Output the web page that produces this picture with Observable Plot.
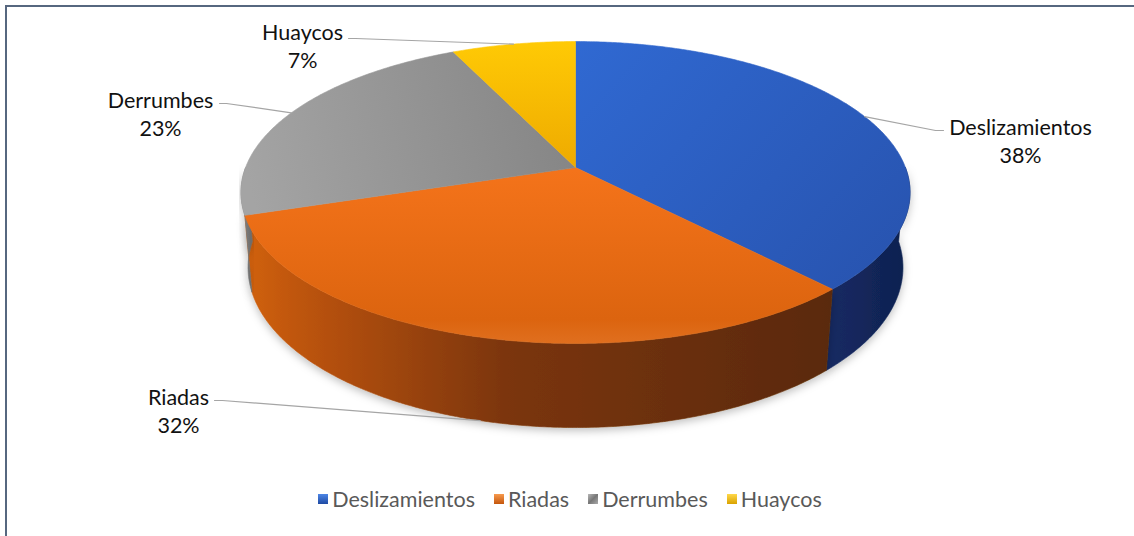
<!DOCTYPE html>
<html>
<head>
<meta charset="utf-8">
<script src="https://cdn.jsdelivr.net/npm/d3@7"></script>
<script src="https://cdn.jsdelivr.net/npm/@observablehq/plot@0.6"></script>
<style>
  html, body { margin: 0; padding: 0; background: #ffffff; }
  body { width: 1134px; height: 536px; overflow: hidden; position: relative; font-family: Lato, "Open Sans", sans-serif; }
  #frame { position: absolute; left: 5px; top: 5px; width: 1140px; height: 540px; border-top: 2px solid #56677f; border-left: 2px solid #56677f; }
  #chart { position: absolute; left: 0; top: 0; }
  #legend { position: absolute; left: 6px; width: 1128px; top: 486px; display: flex; justify-content: center; gap: 19px; font-size: 21.5px; line-height: 26px; color: #595959; }
  .item { display: flex; align-items: center; }
  .sw { width: 10px; height: 10px; margin-right: 4px; box-sizing: border-box; }
</style>
</head>
<body>
<div id="frame"></div>
<div id="chart"></div>
<div id="legend"></div>
<script>
// ---------------- data ----------------
const categories = ["Deslizamientos", "Riadas", "Derrumbes", "Huaycos"];
const values = [38, 32, 23, 7];
const percentLabels = ["38%", "32%", "23%", "7%"];

// ---------------- styles ----------------
const topBase = ["#2d62c6", "#ea6b14", "#929292", "#f8bd00"];
const sideBase = ["#13265a", "#8a3c0a", "#747474", "#c99400"];
const topGrad = ["gTopBlue", "gTopOrange", "gTopGray", "gTopYellow"];
const sideGrad = ["gSideBlue", "gSideOrange", "gSideGray", null];
const swatchCss = [
  "linear-gradient(#4d86e6,#1f4aa3)",
  "linear-gradient(#f79a4e,#c4560c)",
  "linear-gradient(135deg,#b8b8b8,#777 50%,#aaa)",
  "linear-gradient(#ffd84a,#d9a200)"
];

// ---------------- 3D view (perspective) ----------------
const W = 1134, H = 480;
const view = { cx: 575, cy: 167, k: 1785, D: 5.41, s: 0.445, c: 0.8955, h: 0.256 };
function proj(theta, Y) {
  const X = Math.sin(theta), Z = Math.cos(theta);
  const v = Y * view.c + Z * view.s;
  const w = view.D + Z * view.c - Y * view.s;
  return [view.cx + view.k * X / w, view.cy - view.k * v / w];
}
const centerPt = [view.cx, view.cy];

const arcs = d3.pie().sort(null).value(d => d)(values);
function sample(a0, a1) {
  const n = Math.max(2, Math.ceil((a1 - a0) / (Math.PI / 360)));
  return d3.range(n + 1).map(i => a0 + (a1 - a0) * i / n);
}

const topPolys = arcs.map((a) => {
  const pts = [centerPt, ...sample(a.startAngle, a.endAngle).map(t => proj(t, 0)), centerPt];
  return pts.map(([x, y]) => ({ x, y }));
});

const sidePolys = arcs.map((a) => {
  const lo = Math.max(a.startAngle, Math.PI / 2), hi = Math.min(a.endAngle, 3 * Math.PI / 2);
  if (hi <= lo) return null;
  const ts = sample(lo, hi);
  const pts = [...ts.map(t => proj(t, 0)), ...ts.slice().reverse().map(t => proj(t, -view.h))];
  pts.push(pts[0]);
  return pts.map(([x, y]) => ({ x, y }));
});

// label leaders: anchor on the slice (mid-angle), then kink and end near the label
const mid = arcs.map(a => (a.startAngle + a.endAngle) / 2);
const anchors = mid.map(t => Math.cos(t) < -0.5 ? proj(t, -view.h) : proj(t, 0));
const labelLayout = [
  { kink: [935, 130], end: [943, 130], tx: 1020, ty: 130 },
  { kink: [222, 400], end: [214, 400], tx: 178, ty: 400 },
  { kink: [226, 103], end: [219, 103], tx: 160, ty: 103 },
  { kink: [355, 38], end: [348, 38], tx: 302, ty: 35 }
];
const leaders = anchors.map((p, i) => [p, labelLayout[i].kink, labelLayout[i].end].map(([x, y]) => ({ x, y })));
const labelRows = categories.map((name, i) => ({
  x: labelLayout[i].tx, y: labelLayout[i].ty - 15.3, text: name + "\n" + percentLabels[i]
}));

const marks = [];
const markRoles = [];
sidePolys.forEach((poly, i) => {
  if (!poly) return;
  marks.push(Plot.line(poly, { x: "x", y: "y", fill: sideBase[i], stroke: sideBase[i], strokeWidth: 0.6 }));
  markRoles.push({ kind: "side", i });
});
topPolys.forEach((poly, i) => {
  marks.push(Plot.line(poly, { x: "x", y: "y", fill: topBase[i], stroke: topBase[i], strokeWidth: 0.6 }));
  markRoles.push({ kind: "top", i });
});
leaders.forEach(l => marks.push(Plot.line(l, { x: "x", y: "y", stroke: "#a5a5a5", strokeWidth: 1.2 })));
marks.push(Plot.text(labelRows, {
  x: "x", y: "y", text: "text", textAnchor: "middle", lineAnchor: "top", lineHeight: 1.3,
  fontSize: 21.5, fill: "#111111"
}));

const svg = Plot.plot({
  width: W, height: H, margin: 0,
  x: { type: "linear", domain: [0, W], range: [0, W], axis: null },
  y: { type: "linear", domain: [0, H], range: [0, H], axis: null },
  style: { fontFamily: "Lato, 'Open Sans', sans-serif", background: "transparent" },
  marks
});

const root = d3.select(svg);
const defs = root.insert("defs", ":first-child");
function lin(id, x1, y1, x2, y2, stops) {
  const g = defs.append("linearGradient").attr("id", id).attr("gradientUnits", "userSpaceOnUse")
    .attr("x1", x1).attr("y1", y1).attr("x2", x2).attr("y2", y2);
  stops.forEach(([o, c]) => g.append("stop").attr("offset", o).attr("stop-color", c));
}
lin("gTopBlue", 575, 40, 860, 300, [[0, "#3069d2"], [1, "#2854b0"]]);
lin("gTopOrange", 575, 170, 575, 345, [[0, "#f4731a"], [0.85, "#dc640f"], [1, "#e07020"]]);
lin("gTopGray", 250, 190, 575, 120, [[0, "#a4a4a4"], [1, "#858585"]]);
lin("gTopYellow", 575, 40, 575, 167, [[0, "#ffca05"], [1, "#eeaa00"]]);
lin("gSideOrange", 242, 0, 830, 0, [[0, "#d2620f"], [0.12, "#b9520c"], [0.45, "#7b3508"], [1, "#5a2907"]]);
lin("gSideBlue", 830, 0, 908, 0, [[0, "#152a63"], [1, "#0f214f"]]);
lin("gSideGray", 240, 0, 250, 0, [[0, "#8a8a8a"], [1, "#6e6e6e"]]);
const f = defs.append("filter").attr("id", "shadow").attr("x", "-10%").attr("y", "-10%").attr("width", "120%").attr("height", "130%");
f.append("feDropShadow").attr("dx", 0).attr("dy", 3).attr("stdDeviation", 4).attr("flood-color", "#000").attr("flood-opacity", 0.25);

const lineGroups = root.selectAll('g[aria-label="line"]').nodes();
markRoles.forEach((role, k) => {
  const g = d3.select(lineGroups[k]);
  if (role.kind === "side") {
    g.attr("filter", "url(#shadow)");
    const id = sideGrad[role.i];
    if (id) g.selectAll("path").attr("fill", `url(#${id})`).attr("stroke", `url(#${id})`);
  } else {
    const id = topGrad[role.i];
    g.selectAll("path").attr("fill", `url(#${id})`).attr("stroke", `url(#${id})`);
  }
});

document.getElementById("chart").appendChild(svg);

const legend = d3.select("#legend");
categories.forEach((name, i) => {
  const it = legend.append("div").attr("class", "item");
  it.append("div").attr("class", "sw").style("background", swatchCss[i]);
  it.append("span").text(name);
});
</script>
</body>
</html>
